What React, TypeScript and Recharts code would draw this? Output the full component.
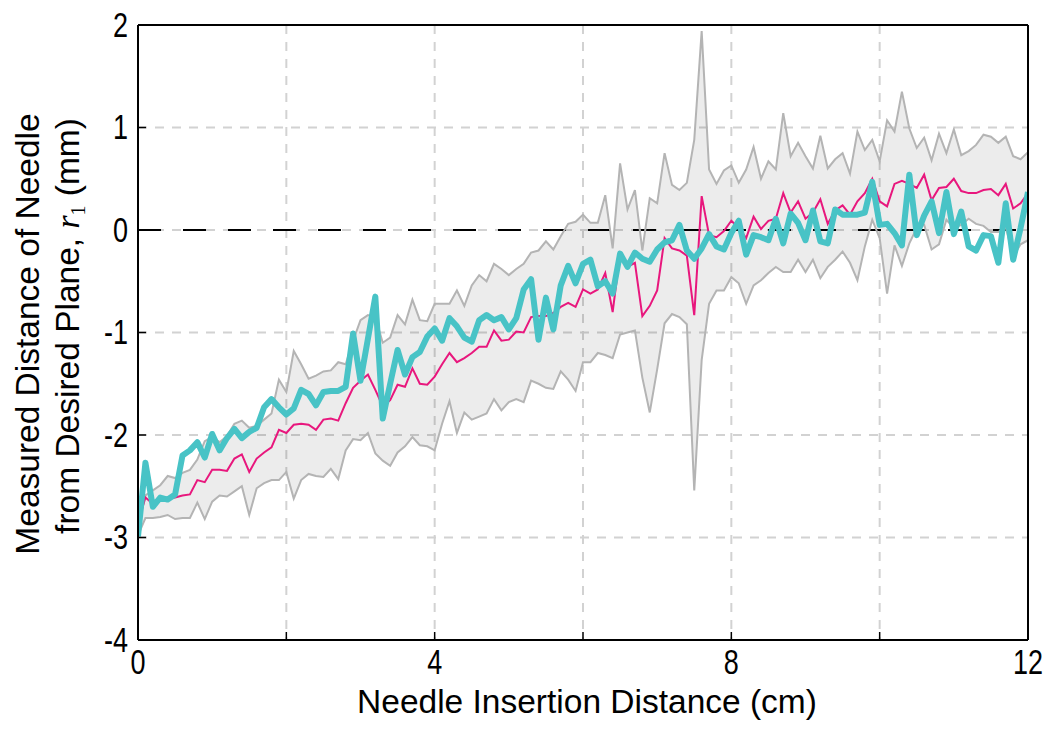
import React from 'react';
import { ComposedChart, Area, Line, XAxis, YAxis, CartesianGrid, ReferenceLine } from 'recharts';

// sample positions: every 0.1 cm from 0 to 12 cm (121 samples)
const upper = [
  -2.90, -2.59, -2.54, -2.49, -2.40, -2.42, -2.37, -2.34, -2.24, -2.06,
  -2.02, -2.07, -2.01, -1.89, -1.86, -1.93, -1.91, -1.85, -1.79, -1.46,
  -1.58, -1.18, -1.31, -1.45, -1.42, -1.38, -1.37, -1.29, -1.31, -1.08,
  -0.88, -0.83, -0.85, -1.10, -1.05, -0.83, -0.92, -0.68, -0.88, -0.89,
  -0.72, -0.72, -0.72, -0.59, -0.74, -0.54, -0.44, -0.50, -0.33, -0.38,
  -0.44, -0.38, -0.33, -0.22, -0.20, -0.11, -0.19, -0.06, 0.06, 0.08,
  0.15, 0.07, 0.07, 0.34, -0.18, 0.65, 0.20, 0.39, -0.20, 0.31,
  0.26, 0.75, 0.44, 0.39, 0.46, 0.88, 1.94, 0.59, 0.45, 0.58,
  0.63, 0.46, 0.59, 0.81, 0.50, 0.67, 0.59, 1.14, 0.72, 0.85,
  0.72, 0.60, 0.92, 0.60, 0.69, 0.75, 0.55, 0.96, 0.78, 0.88,
  0.67, 1.07, 0.96, 1.35, 0.99, 0.80, 0.90, 0.68, 0.94, 0.75,
  0.98, 0.73, 0.77, 0.83, 0.93, 0.91, 0.85, 0.91, 0.72, 0.69,
  0.76,
];

const lower = [
  -2.98, -2.81, -2.81, -2.80, -2.78, -2.82, -2.81, -2.81, -2.66, -2.82,
  -2.65, -2.59, -2.60, -2.55, -2.50, -2.78, -2.52, -2.47, -2.44, -2.44,
  -2.36, -2.62, -2.44, -2.38, -2.40, -2.41, -2.33, -2.43, -2.15, -2.04,
  -2.05, -1.98, -2.18, -2.25, -2.30, -2.17, -2.11, -2.02, -2.10, -2.11,
  -2.15, -1.89, -1.67, -1.98, -1.78, -1.85, -1.82, -1.79, -1.65, -1.76,
  -1.68, -1.65, -1.68, -1.47, -1.50, -1.54, -1.55, -1.38, -1.46, -1.57,
  -1.29, -1.29, -1.20, -1.22, -1.25, -1.02, -1.00, -0.98, -1.44, -1.78,
  -1.36, -0.91, -0.82, -0.85, -0.92, -2.54, -1.27, -0.72, -0.59, -0.59,
  -0.46, -0.52, -0.72, -0.54, -0.49, -0.42, -0.36, -0.41, -0.41, -0.29,
  -0.41, -0.29, -0.47, -0.36, -0.29, -0.21, -0.32, -0.49, -0.16, 0.10,
  -0.08, -0.62, -0.15, -0.35, -0.13, 0.02, 0.05, -0.19, -0.14, 0.10,
  0.02, 0.05, 0.11, 0.06, 0.04, -0.02, -0.02, 0.03, -0.26, -0.14,
  -0.10,
];

const mean = [
  -2.85, -2.61, -2.67, -2.63, -2.62, -2.61, -2.59, -2.58, -2.44, -2.46,
  -2.34, -2.34, -2.35, -2.23, -2.19, -2.36, -2.23, -2.17, -2.12, -1.95,
  -1.98, -1.90, -1.89, -1.90, -1.95, -1.85, -1.84, -1.86, -1.69, -1.54,
  -1.47, -1.41, -1.56, -1.72, -1.66, -1.51, -1.53, -1.35, -1.50, -1.51,
  -1.43, -1.31, -1.20, -1.29, -1.25, -1.20, -1.14, -1.14, -0.98, -1.08,
  -1.07, -0.99, -1.00, -0.85, -0.84, -0.84, -0.81, -0.75, -0.71, -0.75,
  -0.58, -0.62, -0.58, -0.42, -0.80, -0.23, -0.36, -0.32, -0.84, -0.74,
  -0.59, -0.08, -0.18, -0.20, -0.25, -0.83, 0.33, -0.05, -0.07, -0.01,
  0.09, 0.02, -0.08, 0.13, 0.01, 0.09, 0.11, 0.36, 0.17, 0.28,
  0.11, 0.17, 0.30, 0.06, 0.19, 0.24, 0.15, 0.28, 0.36, 0.50,
  0.28, 0.23, 0.45, 0.48, 0.45, 0.41, 0.54, 0.29, 0.41, 0.42,
  0.50, 0.38, 0.36, 0.36, 0.39, 0.40, 0.34, 0.45, 0.21, 0.26,
  0.36,
];

const measured = [
  -2.99, -2.27, -2.70, -2.61, -2.63, -2.58, -2.20, -2.15, -2.07, -2.22,
  -1.99, -2.15, -2.03, -1.94, -2.03, -1.97, -1.93, -1.73, -1.65, -1.73,
  -1.80, -1.74, -1.56, -1.60, -1.71, -1.58, -1.57, -1.57, -1.53, -1.01,
  -1.47, -1.06, -0.65, -1.84, -1.50, -1.17, -1.41, -1.24, -1.19, -1.04,
  -0.96, -1.08, -0.86, -0.94, -1.05, -1.09, -0.88, -0.83, -0.88, -0.85,
  -0.97, -0.86, -0.58, -0.48, -1.07, -0.66, -0.97, -0.54, -0.35, -0.52,
  -0.33, -0.29, -0.55, -0.50, -0.62, -0.23, -0.36, -0.22, -0.28, -0.31,
  -0.19, -0.12, -0.10, 0.05, -0.20, -0.28, -0.18, -0.04, -0.16, -0.19,
  -0.03, 0.09, -0.24, -0.05, -0.07, -0.10, 0.11, -0.13, 0.16, 0.07,
  -0.10, 0.19, -0.11, -0.13, 0.20, 0.15, 0.15, 0.15, 0.17, 0.47,
  0.05, 0.06, -0.03, -0.15, 0.54, -0.05, 0.14, 0.28, -0.03, 0.37,
  -0.04, 0.18, -0.16, -0.20, -0.05, -0.06, -0.32, 0.26, -0.29, 0.02,
  0.37,
];

const xTicks = [0, 2, 4, 6, 8, 10, 12];
const xTickLabels = ['0', '', '4', '', '8', '', '12'];
const yTicks = [-4, -3, -2, -1, 0, 1, 2];
const yTickLabels = ['-4', '-3', '-2', '-1', '0', '1', '2'];

const data = measured.map((m, i) => ({
  x: i / 10,
  band: [lower[i], upper[i]],
  hi: upper[i],
  lo: lower[i],
  mean: mean[i],
  meas: m,
}));

const FONT = "'Liberation Sans', Arial, Helvetica, sans-serif";
const SERIF = "'Liberation Serif', 'Times New Roman', serif";

const XTick = (props: any) => {
  const { x, payload } = props;
  const idx = xTicks.indexOf(payload.value);
  const label = idx >= 0 ? xTickLabels[idx] : '';
  if (!label) return null;
  return (
    <text x={x} y={674} textAnchor="middle" fontSize={30} fontFamily={FONT} fill="#000"
      transform={`translate(${x},674) scale(0.9,1.15) translate(${-x},-674)`}>
      {label}
    </text>
  );
};

const YTick = (props: any) => {
  const { y, payload } = props;
  const idx = yTicks.indexOf(payload.value);
  const label = idx >= 0 ? yTickLabels[idx] : '';
  const by = y + 12;
  return (
    <text x={128} y={by} textAnchor="end" fontSize={30} fontFamily={FONT} fill="#000"
      transform={`translate(128,${by}) scale(0.9,1.15) translate(-128,${-by})`}>
      {label}
    </text>
  );
};

const YTitle = () => (
  <g>
    <text transform="translate(39,334) rotate(-90)" textAnchor="middle" fontSize={33.5} fontFamily={FONT} fill="#000">
      Measured Distance of Needle
    </text>
    <text transform="translate(79,326) rotate(-90)" textAnchor="middle" fontSize={33.5} fontFamily={FONT} fill="#000">
      from Desired Plane,{' '}
      <tspan fontFamily={SERIF} fontStyle="italic">r</tspan>
      <tspan fontFamily={SERIF} fontSize={20} dy={6}>1</tspan>
      <tspan dy={-6}> (mm)</tspan>
    </text>
  </g>
);

const XTitle = () => (
  <text x={587} y={713} textAnchor="middle" fontSize={33.5} fontFamily={FONT} fill="#000">
    Needle Insertion Distance (cm)
  </text>
);

export default function App() {
  return (
    <div style={{ position: 'absolute', left: 0, top: 0, background: '#fff' }}>
      <ComposedChart
        width={1050}
        height={729}
        data={data}
        margin={{ top: 25, right: 22, left: 0, bottom: 0 }}
      >
        <CartesianGrid stroke="#d2d2d2" strokeWidth={2} strokeDasharray="9 8" />
        <XAxis
          type="number"
          dataKey="x"
          domain={[0, 12]}
          ticks={xTicks}
          interval={0}
          height={89}
          tickSize={-8}
          tickMargin={16}
          tick={<XTick />}
          axisLine={{ stroke: '#000', strokeWidth: 2 }}
          tickLine={{ stroke: '#000', strokeWidth: 1.5 }}
          label={<XTitle />}
          allowDataOverflow
        />
        <YAxis
          type="number"
          domain={[-4, 2]}
          ticks={yTicks}
          interval={0}
          width={138}
          tickSize={-8}
          tickMargin={18}
          tick={<YTick />}
          axisLine={{ stroke: '#000', strokeWidth: 2 }}
          tickLine={{ stroke: '#000', strokeWidth: 1.5 }}
          label={<YTitle />}
          allowDataOverflow
        />
        <ReferenceLine y={0} stroke="#000" strokeWidth={2} strokeDasharray="23 22" />
        <Area
          type="linear"
          dataKey="band"
          stroke="none"
          fill="#000"
          fillOpacity={0.075}
          isAnimationActive={false}
          activeDot={false}
        />
        <Line type="linear" dataKey="hi" stroke="#b4b4b4" strokeWidth={2} dot={false} activeDot={false} isAnimationActive={false} />
        <Line type="linear" dataKey="lo" stroke="#b4b4b4" strokeWidth={2} dot={false} activeDot={false} isAnimationActive={false} />
        <Line type="linear" dataKey="mean" stroke="#e8177d" strokeWidth={2} dot={false} activeDot={false} isAnimationActive={false} />
        <Line type="linear" dataKey="meas" stroke="#48c3c6" strokeWidth={6} strokeLinejoin="round" dot={false} activeDot={false} isAnimationActive={false} />
        <ReferenceLine y={2} stroke="#000" strokeWidth={2} />
        <ReferenceLine x={12} stroke="#000" strokeWidth={2} />
      </ComposedChart>
    </div>
  );
}
